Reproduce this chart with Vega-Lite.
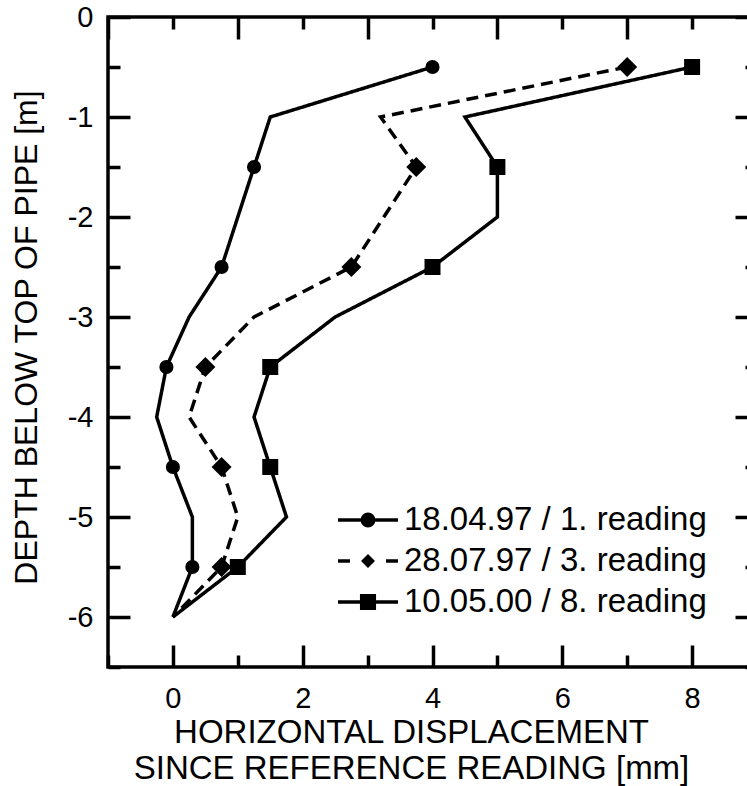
{
  "$schema": "https://vega.github.io/schema/vega-lite/v6.json",
  "width": 649,
  "height": 650,
  "autosize": {"type": "none"},
  "padding": {"left": 108, "top": 17, "right": -10, "bottom": 119},
  "config": {
    "font": "Liberation Sans",
    "view": {"stroke": "black", "strokeWidth": 3.5},
    "axis": {"grid": false, "domain": false, "tickColor": "black", "tickWidth": 3.5, "labelColor": "black", "titleColor": "black", "titleFontWeight": "normal", "labelFlush": false, "labelOverlap": false}
  },
  "data": {
    "values": [
      {"series": "18.04.97 / 1. reading", "depth": -0.5, "disp": 4.0},
      {"series": "18.04.97 / 1. reading", "depth": -1.0, "disp": 1.5},
      {"series": "18.04.97 / 1. reading", "depth": -1.5, "disp": 1.25},
      {"series": "18.04.97 / 1. reading", "depth": -2.0, "disp": 1.0},
      {"series": "18.04.97 / 1. reading", "depth": -2.5, "disp": 0.75},
      {"series": "18.04.97 / 1. reading", "depth": -3.0, "disp": 0.25},
      {"series": "18.04.97 / 1. reading", "depth": -3.5, "disp": -0.1},
      {"series": "18.04.97 / 1. reading", "depth": -4.0, "disp": -0.25},
      {"series": "18.04.97 / 1. reading", "depth": -4.5, "disp": 0.0},
      {"series": "18.04.97 / 1. reading", "depth": -5.0, "disp": 0.3},
      {"series": "18.04.97 / 1. reading", "depth": -5.5, "disp": 0.3},
      {"series": "18.04.97 / 1. reading", "depth": -6.0, "disp": 0.0},
      {"series": "28.07.97 / 3. reading", "depth": -0.5, "disp": 7.0},
      {"series": "28.07.97 / 3. reading", "depth": -1.0, "disp": 3.2},
      {"series": "28.07.97 / 3. reading", "depth": -1.5, "disp": 3.75},
      {"series": "28.07.97 / 3. reading", "depth": -2.0, "disp": 3.25},
      {"series": "28.07.97 / 3. reading", "depth": -2.5, "disp": 2.75},
      {"series": "28.07.97 / 3. reading", "depth": -3.0, "disp": 1.25},
      {"series": "28.07.97 / 3. reading", "depth": -3.5, "disp": 0.5},
      {"series": "28.07.97 / 3. reading", "depth": -4.0, "disp": 0.25},
      {"series": "28.07.97 / 3. reading", "depth": -4.5, "disp": 0.75},
      {"series": "28.07.97 / 3. reading", "depth": -5.0, "disp": 1.0},
      {"series": "28.07.97 / 3. reading", "depth": -5.5, "disp": 0.75},
      {"series": "28.07.97 / 3. reading", "depth": -6.0, "disp": 0.0},
      {"series": "10.05.00 / 8. reading", "depth": -0.5, "disp": 8.0},
      {"series": "10.05.00 / 8. reading", "depth": -1.0, "disp": 4.5},
      {"series": "10.05.00 / 8. reading", "depth": -1.5, "disp": 5.0},
      {"series": "10.05.00 / 8. reading", "depth": -2.0, "disp": 5.0},
      {"series": "10.05.00 / 8. reading", "depth": -2.5, "disp": 4.0},
      {"series": "10.05.00 / 8. reading", "depth": -3.0, "disp": 2.5},
      {"series": "10.05.00 / 8. reading", "depth": -3.5, "disp": 1.5},
      {"series": "10.05.00 / 8. reading", "depth": -4.0, "disp": 1.25},
      {"series": "10.05.00 / 8. reading", "depth": -4.5, "disp": 1.5},
      {"series": "10.05.00 / 8. reading", "depth": -5.0, "disp": 1.75},
      {"series": "10.05.00 / 8. reading", "depth": -5.5, "disp": 1.0},
      {"series": "10.05.00 / 8. reading", "depth": -6.0, "disp": 0.0}
    ]
  },
  "layer": [
    {
      "mark": {"type": "line", "color": "black", "strokeWidth": 3.5},
      "encoding": {
        "x": {
          "field": "disp", "type": "quantitative",
          "scale": {"domain": [-1, 9], "nice": false, "zero": false},
          "axis": {
            "orient": "bottom",
            "values": [-1, 0, 1, 2, 3, 4, 5, 6, 7, 8, 9],
            "tickSize": {"expr": "(datum.value % 2 == 0 ? -22 : -12)"},
            "labelExpr": "(datum.value % 2 == 0 && datum.value >= 0 && datum.value <= 8) ? '' + datum.value : ''",
            "labelFontSize": 29,
            "labelPadding": 39,
            "labelBaseline": "top",
            "title": ["HORIZONTAL DISPLACEMENT", "SINCE REFERENCE READING [mm]"],
            "titleFontSize": 33,
            "titleLineHeight": 36,
            "titleX": 303,
            "titleY": 75,
            "titleAlign": "center",
            "titleBaseline": "alphabetic"
          }
        },
        "y": {
          "field": "depth", "type": "quantitative",
          "scale": {"domain": [-6.5, 0], "nice": false, "zero": false},
          "axis": {
            "orient": "left",
            "values": [-6.5, -6, -5.5, -5, -4.5, -4, -3.5, -3, -2.5, -2, -1.5, -1, -0.5, 0],
            "tickSize": {"expr": "(datum.value % 1 == 0 ? -22 : -12)"},
            "labelExpr": "datum.value % 1 == 0 ? '' + datum.value : ''",
            "labelFontSize": 29,
            "labelPadding": 37,
            "title": "DEPTH BELOW TOP OF PIPE [m]",
            "titleFontSize": 32,
            "titleAngle": 270,
            "titleX": -72,
            "titleY": 320,
            "titleAlign": "center",
            "titleBaseline": "alphabetic"
          }
        },
        "strokeDash": {
          "field": "series", "type": "nominal",
          "scale": {"range": [[1, 0], [1, 0], [12, 7]]},
          "legend": null
        },
        "order": {"field": "depth", "sort": "descending"}
      }
    },
    {
      "transform": [{"filter": "datum.depth % 1 != 0 && datum.series == '18.04.97 / 1. reading'"}],
      "mark": {"type": "point", "shape": "circle", "filled": true, "color": "black", "opacity": 1, "strokeWidth": 0, "size": 200},
      "encoding": {
        "x": {
          "field": "disp", "type": "quantitative",
          "axis": {
            "orient": "top",
            "values": [-1, 0, 1, 2, 3, 4, 5, 6, 7, 8, 9],
            "tickSize": {"expr": "(datum.value % 2 != 0 ? -22 : -12)"},
            "labels": false,
            "title": null
          }
        },
        "y": {
          "field": "depth", "type": "quantitative",
          "axis": {
            "orient": "right",
            "values": [-6.5, -6, -5.5, -5, -4.5, -4, -3.5, -3, -2.5, -2, -1.5, -1, -0.5, 0],
            "tickSize": {"expr": "(datum.value % 1 == 0 ? -22 : -12)"},
            "labels": false,
            "title": null
          }
        }
      }
    },
    {
      "transform": [{"filter": "datum.depth % 1 != 0 && datum.series == '28.07.97 / 3. reading'"}],
      "mark": {"type": "point", "shape": "diamond", "filled": true, "color": "black", "opacity": 1, "strokeWidth": 0, "size": 400},
      "encoding": {
        "x": {"field": "disp", "type": "quantitative", "axis": null},
        "y": {"field": "depth", "type": "quantitative", "axis": null}
      }
    },
    {
      "transform": [{"filter": "datum.depth % 1 != 0 && datum.series == '10.05.00 / 8. reading'"}],
      "mark": {"type": "point", "shape": "square", "filled": true, "color": "black", "opacity": 1, "strokeWidth": 0, "size": 256},
      "encoding": {
        "x": {"field": "disp", "type": "quantitative", "axis": null},
        "y": {"field": "depth", "type": "quantitative", "axis": null}
      }
    },
    {
      "transform": [{"filter": "datum.depth == -0.5"}],
      "mark": {"type": "point", "filled": true, "fill": "black", "stroke": "black", "strokeWidth": 3.5, "opacity": 0, "size": 10},
      "encoding": {
        "x": {"field": "disp", "type": "quantitative", "axis": null},
        "y": {"field": "depth", "type": "quantitative", "axis": null},
        "shape": {
          "field": "series", "type": "nominal",
          "scale": {
            "domain": ["18.04.97 / 1. reading", "28.07.97 / 3. reading", "10.05.00 / 8. reading"],
            "range": [
              "M-2,0H2M0.38,0A0.38,0.38,0,1,1,-0.38,0A0.38,0.38,0,1,1,0.38,0Z",
              "M-2,0H-1.2M1.2,0H2M-0.3,0L0,-0.3L0.3,0L0,0.3Z",
              "M-2,0H2M-0.42,-0.42H0.42V0.42H-0.42Z"
            ]
          },
          "legend": {
            "orient": "none",
            "legendX": 243,
            "legendY": 486,
            "title": null,
            "padding": 0,
            "labelFontSize": 33,
            "labelColor": "black",
            "labelLimit": 600,
            "labelOffset": 19,
            "symbolSize": 900,
            "symbolStrokeWidth": 3.5,
            "symbolOpacity": 1,
            "rowPadding": 7,
            "encode": {
              "symbols": {
                "fill": {"value": "black"},
                "stroke": {"value": "black"},
                "strokeWidth": {"value": 3.5},
                "opacity": {"value": 1}
              }
            }
          }
        }
      }
    }
  ],
  "resolve": {"axis": {"x": "independent", "y": "independent"}}
}
